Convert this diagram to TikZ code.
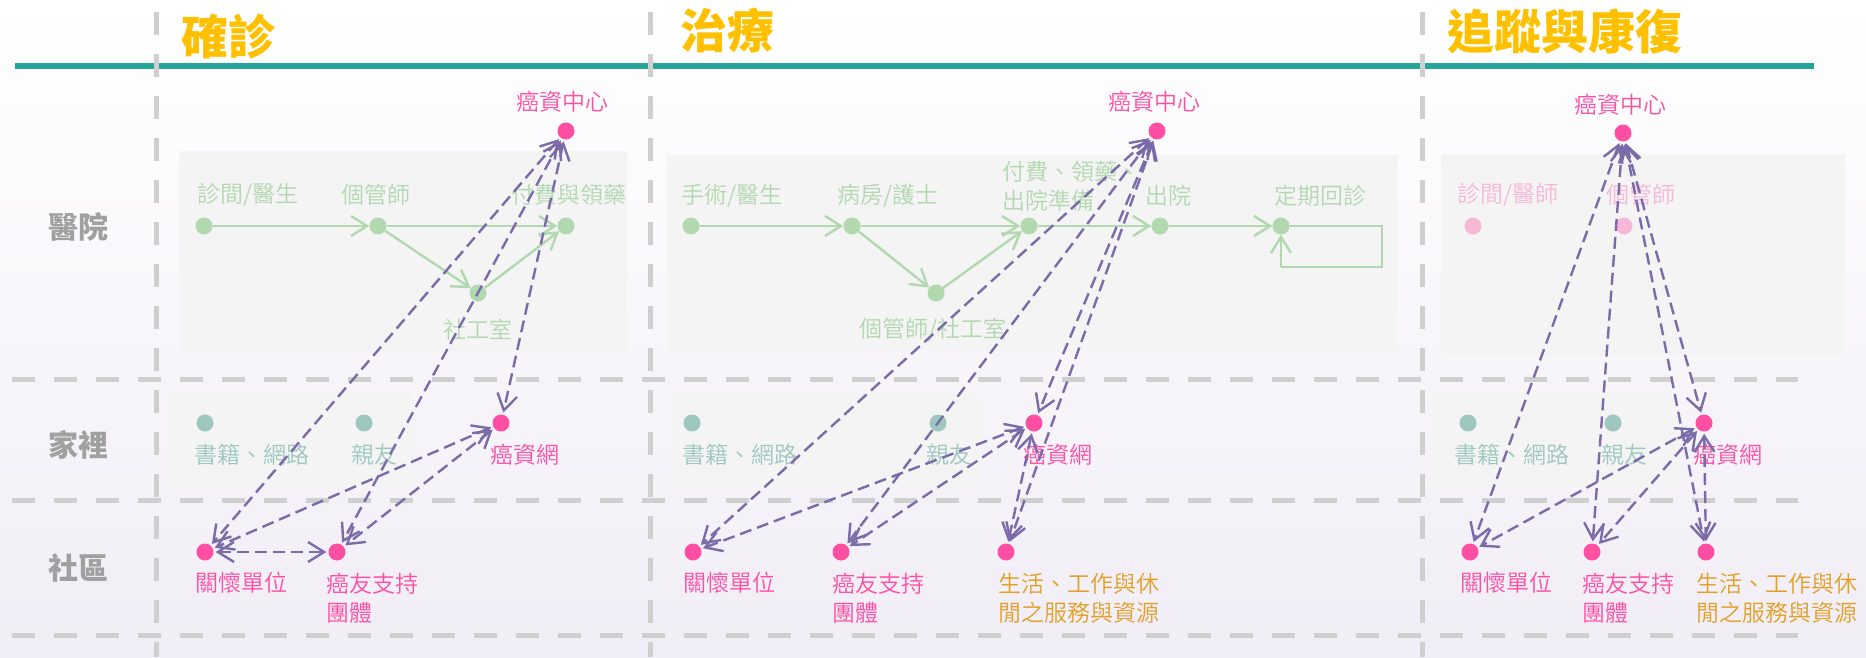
\documentclass[tikz,border=0pt]{standalone}
\usepackage{fontspec}
\setmainfont{Noto Sans CJK TC}
\newfontfamily\lcjk{Noto Sans CJK TC DemiLight}
\usetikzlibrary{arrows.meta}
\definecolor{cteal}{RGB}{38,166,154}
\definecolor{cyellow}{RGB}{255,192,0}
\definecolor{cgrayline}{RGB}{207,207,207}
\definecolor{crow}{RGB}{160,160,160}
\definecolor{cpanel}{RGB}{244,244,244}
\definecolor{cgreen}{RGB}{178,216,176}
\definecolor{cpink}{RGB}{255,79,163}
\definecolor{clpink}{RGB}{247,184,216}
\definecolor{ctealdot}{RGB}{157,199,191}
\definecolor{corange}{RGB}{226,160,40}
\definecolor{cpurple}{RGB}{123,107,168}
\definecolor{cbgbot}{RGB}{241,237,246}
\begin{document}
\begin{tikzpicture}[x=1pt,y=-1pt,
  dot/.style={circle,inner sep=0pt,minimum size=17pt},
  gdot/.style={dot,fill=cgreen},
  pdot/.style={dot,fill=cpink},
  lpdot/.style={dot,fill=clpink},
  tdot/.style={dot,fill=ctealdot},
  lbl/.style={inner sep=0pt,font=\lcjk\fontsize{23}{29}\selectfont},
  glbl/.style={lbl,text=cgreen},
  plbl/.style={lbl,text=cpink},
  lplbl/.style={lbl,text=clpink},
  tlbl/.style={lbl,text=ctealdot},
  olbl/.style={lbl,text=corange},
  rowlbl/.style={inner sep=0pt,text=crow,font=\fontsize{30}{30}\selectfont\bfseries},
  ttl/.style={inner sep=0pt,text=cyellow,font=\fontsize{47}{47}\selectfont\bfseries},
  panel/.style={fill=cpanel,draw=none},
  gridline/.style={draw=cgrayline,line width=5pt,dash pattern=on 23pt off 19pt},
  garr/.style={draw=cgreen,line width=2.4pt,-{Straight Barb[length=16pt,width=20pt]}},
  gthin/.style={draw=cgreen,line width=1.4pt},
  parr/.style={draw=cpurple,line width=2.4pt,dash pattern=on 12pt off 6pt,
    {Straight Barb[length=16pt,width=20pt]}-{Straight Barb[length=16pt,width=20pt]},
    shorten <=2pt,shorten >=2pt}
]
\useasboundingbox (0,0) rectangle (1866,657);
\shade[top color=white,bottom color=cbgbot] (0,0) rectangle (1866,657);

% panels
\fill[panel] (179,151) rectangle (627,352);
\fill[panel] (167,392) rectangle (413,487);
\fill[panel] (667,155) rectangle (1398,350);
\fill[panel] (672,393) rectangle (980,487);
\fill[panel] (1441,154) rectangle (1845,355);
\fill[panel] (1433,393) rectangle (1679,487);

% teal line
\draw[cteal,line width=6pt] (15,66) -- (1814,66);

% grid dashed lines
\draw[gridline] (156,12) -- (156,657);
\draw[gridline] (650,12) -- (650,657);
\draw[gridline] (1422,12) -- (1422,657);
\draw[gridline] (12,379) -- (1798,379);
\draw[gridline] (12,500) -- (1798,500);
\draw[gridline] (12,635) -- (1798,635);

% titles
\node[ttl] (T1) at (228,36) {確診};
\node[ttl] (T2) at (727,31) {治療};
\node[ttl] (T3) at (1565,32) {追蹤與康復};

% row labels
\node[rowlbl] (R1) at (78,227) {醫院};
\node[rowlbl] (R2) at (78,445) {家裡};
\node[rowlbl] (R3) at (78,568) {社區};

% ---------- 確診 hospital ----------
\node[gdot] (d1a) at (204,226) {};
\node[gdot] (d1b) at (378,226) {};
\node[gdot] (d1c) at (566,226) {};
\node[gdot] (d1d) at (478,293) {};
\node[glbl] (l1a) at (248,195) {診間/醫生};
\node[glbl] (l1b) at (376,195) {個管師};
\node[glbl] (l1c) at (569,195) {付費與領藥};
\node[glbl] (l1d) at (478,330) {社工室};
\draw[garr] (d1a) -- (d1b);
\draw[garr] (d1b) -- (d1c);
\draw[garr] (d1b) -- (d1d);
\draw[garr] (d1d) -- (d1c);

% ---------- 治療 hospital ----------
\node[gdot] (t1) at (691,226) {};
\node[gdot] (t2) at (852,226) {};
\node[gdot] (t3) at (1029,226) {};
\node[gdot] (t4) at (936,293) {};
\node[gdot] (t5) at (1160,226) {};
\node[gdot] (t6) at (1281,226) {};
\node[glbl] (lt1) at (732,196) {手術/醫生};
\node[glbl] (lt2) at (888,196) {病房/護士};
\node[glbl,anchor=west,align=left] (lt3) at (1002,186) {付費、領藥、\\出院準備};
\node[glbl] (lt4) at (933,330) {個管師/社工室};
\node[glbl] (lt5) at (1168,196) {出院};
\node[glbl] (lt6) at (1320,196) {定期回診};
\draw[garr] (t1) -- (t2);
\draw[garr] (t2) -- (t3);
\draw[garr] (t2) -- (t4);
\draw[garr] (t4) -- (t3);
\draw[garr] (t3) -- (t5);
\draw[garr] (t5) -- (t6);
\coordinate (loopC) at (1382,267);
\coordinate (loopA) at (1281,267);
\draw[gthin] (t6.east) -| (loopC) -- (loopA);
\draw[garr] (loopA) -- (t6.south);

% ---------- 追蹤 hospital ----------
\node[lpdot] (e1) at (1473,226) {};
\node[lpdot] (e2) at (1624,226) {};
\node[lplbl] (le1) at (1508,195) {診間/醫師};
\node[lplbl] (le2) at (1641,195) {個管師};

% ---------- home ----------
\node[tdot] (h1a) at (205,423) {};
\node[tdot] (h1b) at (364,423) {};
\node[pdot] (h1c) at (501,423) {};
\node[tlbl] (lh1a) at (252,455) {書籍、網路};
\node[tlbl] (lh1b) at (374,455) {親友};
\node[plbl] (lh1c) at (525,455) {癌資網};

\node[tdot] (h2a) at (692,423) {};
\node[tdot] (h2b) at (938,423) {};
\node[pdot] (h2c) at (1034,423) {};
\node[tlbl] (lh2a) at (740,455) {書籍、網路};
\node[tlbl] (lh2b) at (949,455) {親友};
\node[plbl] (lh2c) at (1058,455) {癌資網};

\node[tdot] (h3a) at (1468,423) {};
\node[tdot] (h3b) at (1613,423) {};
\node[pdot] (h3c) at (1704,423) {};
\node[tlbl] (lh3a) at (1512,455) {書籍、網路};
\node[tlbl] (lh3b) at (1624,455) {親友};
\node[plbl] (lh3c) at (1728,455) {癌資網};

% ---------- community ----------
\node[pdot] (c1a) at (205,552) {};
\node[pdot] (c1b) at (337,552) {};
\node[plbl] (lc1a) at (241,583) {關懷單位};
\node[plbl,anchor=west,align=left] (lc1b) at (326,598) {癌友支持\\團體};

\node[pdot] (c2a) at (693,552) {};
\node[pdot] (c2b) at (841,552) {};
\node[pdot] (c2c) at (1006,552) {};
\node[plbl] (lc2a) at (729,583) {關懷單位};
\node[plbl,anchor=west,align=left] (lc2b) at (832,598) {癌友支持\\團體};
\node[olbl,anchor=west,align=left] (lc2c) at (998,598) {生活、工作與休\\閒之服務與資源};

\node[pdot] (c3a) at (1470,552) {};
\node[pdot] (c3b) at (1592,552) {};
\node[pdot] (c3c) at (1706,552) {};
\node[plbl] (lc3a) at (1506,583) {關懷單位};
\node[plbl,anchor=west,align=left] (lc3b) at (1582,598) {癌友支持\\團體};
\node[olbl,anchor=west,align=left] (lc3c) at (1696,598) {生活、工作與休\\閒之服務與資源};

% ---------- cancer info centres ----------
\node[pdot] (k1) at (566,131) {};
\node[pdot] (k2) at (1157,131) {};
\node[pdot] (k3) at (1623,133) {};
\node[plbl] (lk1) at (562,102) {癌資中心};
\node[plbl] (lk2) at (1154,102) {癌資中心};
\node[plbl] (lk3) at (1620,105) {癌資中心};

% ---------- purple dashed arrows ----------
\draw[parr] (k1) -- (c1a);
\draw[parr] (k1) -- (c1b);
\draw[parr] (k1) -- (h1c);
\draw[parr] (h1c) -- (c1a);
\draw[parr] (h1c) -- (c1b);
\draw[parr] (c1a) -- (c1b);

\draw[parr] (k2) -- (c2a);
\draw[parr] (k2) -- (c2b);
\draw[parr] (k2) -- (h2c);
\draw[parr] (k2) -- (c2c);
\draw[parr] (h2c) -- (c2a);
\draw[parr] (h2c) -- (c2b);
\draw[parr] (h2c) -- (c2c);

\draw[parr] (k3) -- (c3a);
\draw[parr] (k3) -- (c3b);
\draw[parr] (k3) -- (h3c);
\draw[parr] (k3) -- (c3c);
\draw[parr] (h3c) -- (c3a);
\draw[parr] (h3c) -- (c3b);
\draw[parr] (h3c) -- (c3c);
\end{tikzpicture}
\end{document}
